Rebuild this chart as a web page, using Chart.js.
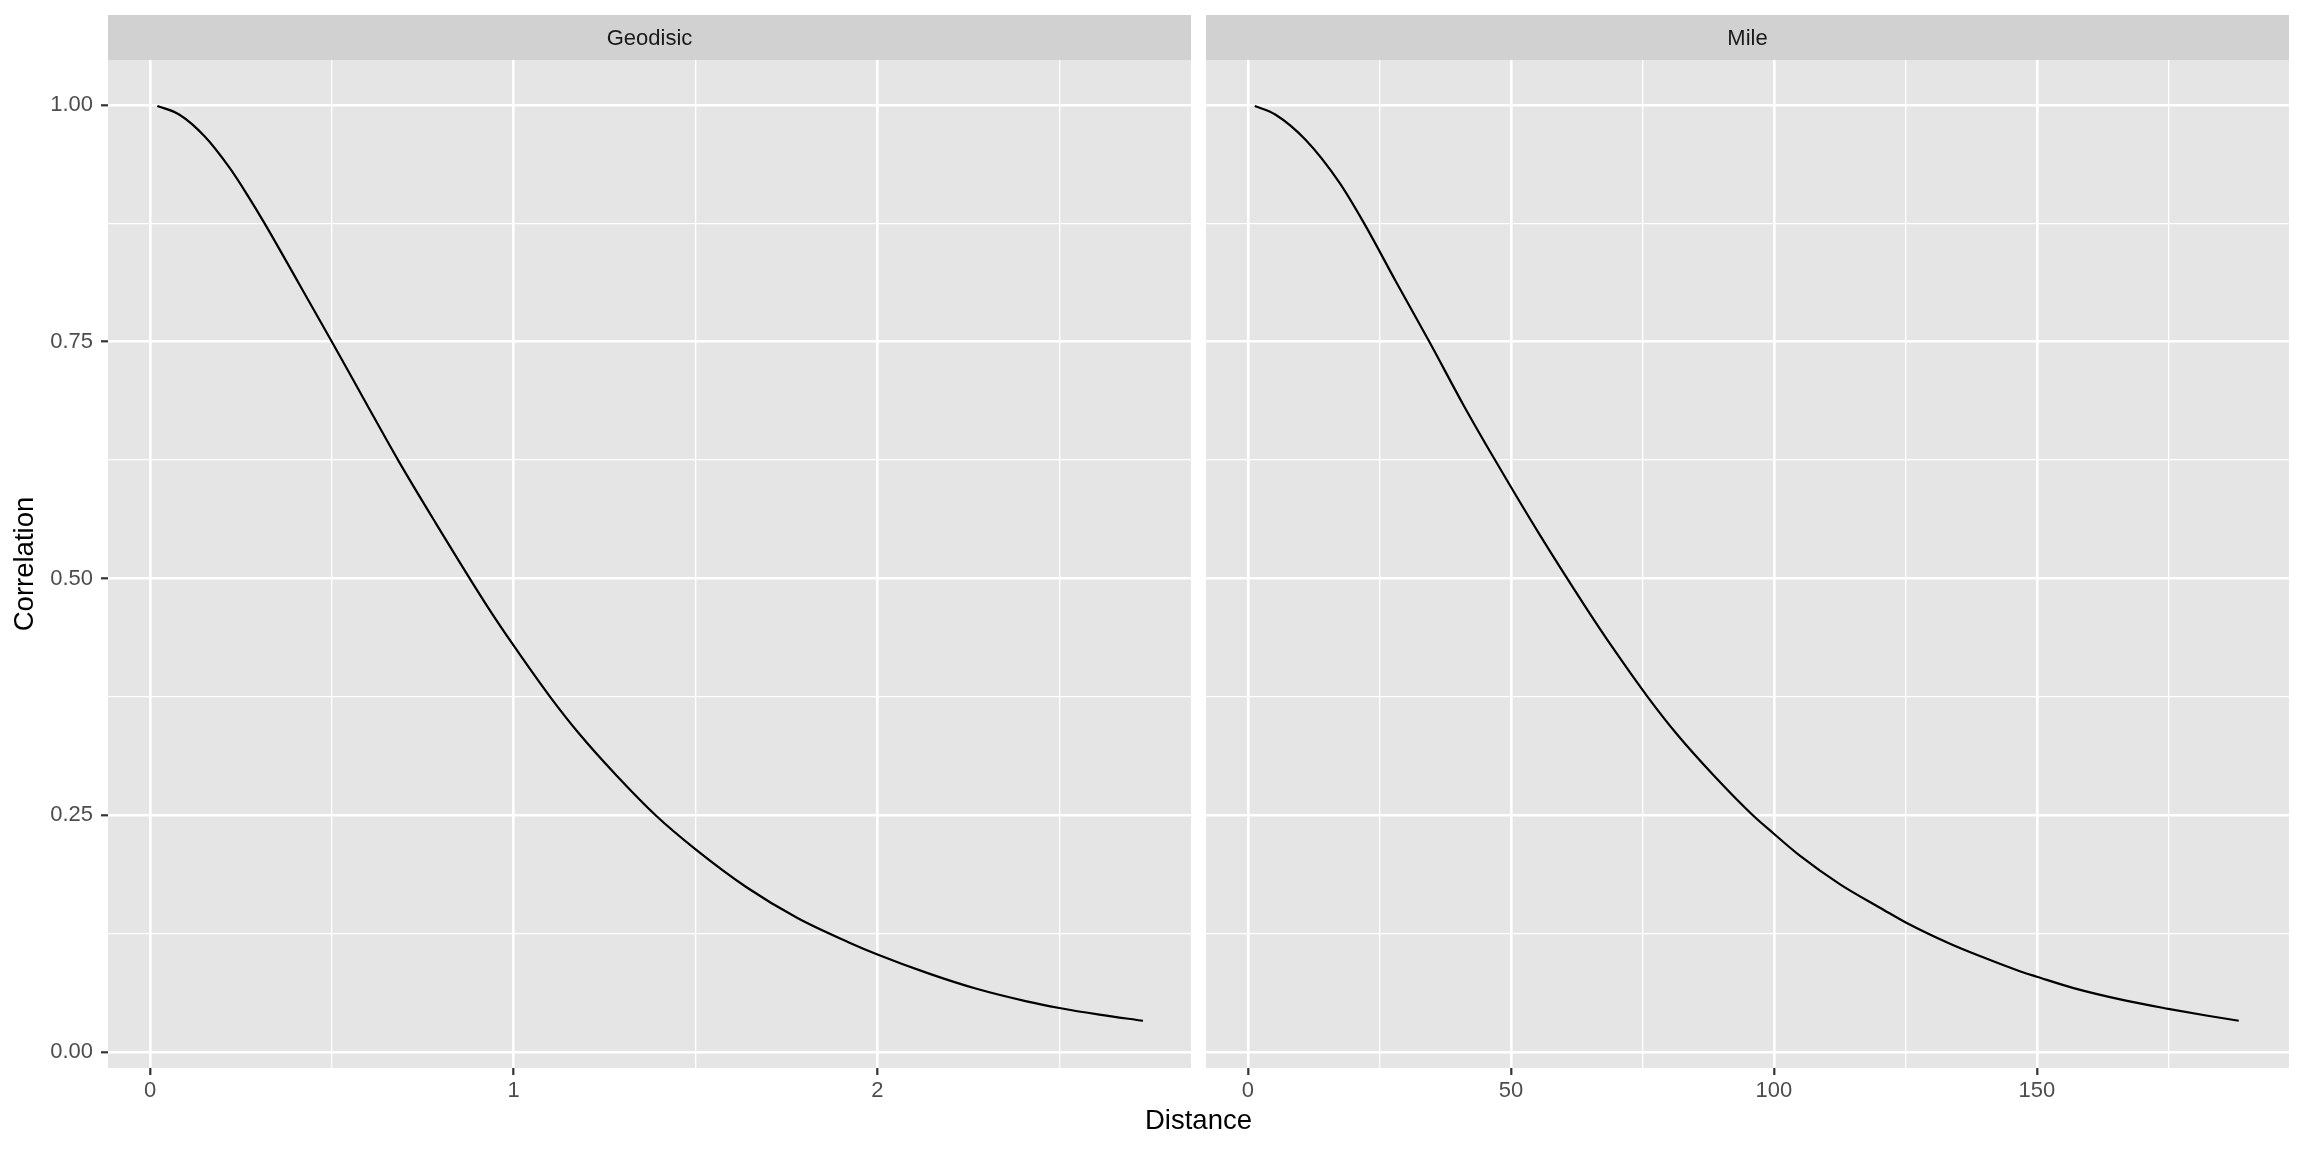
<!DOCTYPE html>
<html>
<head>
<meta charset="utf-8">
<script src="https://cdn.jsdelivr.net/npm/chart.js@4.4.1/dist/chart.umd.min.js"></script>
<style>
  body { margin: 0; background: #ffffff; }
  #wrap { position: relative; width: 2304px; height: 1152px; font-family: "Liberation Sans", Arial, sans-serif; }
  canvas { position: absolute; top: 0; }
  #geo { left: 0; }
  #mile { left: 1198px; }
  #xtitle { position: absolute; left: 0; width: 2397px; top: 1104px; text-align: center;
            font-size: 27.5px; line-height: 32px; color: #000000; }
</style>
</head>
<body>
<div id="wrap">
  <canvas id="geo" width="1198" height="1152"></canvas>
  <canvas id="mile" width="1106" height="1152"></canvas>
  <div id="xtitle">Distance</div>
</div>
<script>
// curve, one per facet
const geoDist = [0.02, 0.08, 0.15, 0.22, 0.27, 0.315, 0.41, 0.50, 0.59, 0.682, 0.78, 0.93, 1.00,
  1.10, 1.18, 1.28, 1.39, 1.50, 1.64, 1.78, 1.92, 2.00, 2.14, 2.27, 2.41, 2.50, 2.61, 2.73];
const geoCorr = [0.999, 0.990, 0.967, 0.933, 0.9035, 0.875, 0.811, 0.750, 0.688, 0.625, 0.562, 0.469, 0.429,
  0.375, 0.336, 0.293, 0.250, 0.214, 0.174, 0.1415, 0.116, 0.103, 0.083, 0.067, 0.0535, 0.0465, 0.0395, 0.033];

const mileDist = [1.3, 5.2, 11.0, 17.4, 22.1, 28.0, 34.5, 41.0, 47.1, 55.5, 64.3, 69.1, 76.0,
  81.5, 88.4, 96.0, 100.0, 105.0, 112.6, 120.9, 125.0, 133.6, 139.3, 146.9, 150.0, 157.0,
  166.5, 175.0, 182.2, 188.4];
const mileCorr = [0.999, 0.990, 0.963, 0.918, 0.875, 0.815, 0.750, 0.683, 0.624, 0.546, 0.469, 0.429, 0.375,
  0.336, 0.293, 0.250, 0.2305, 0.207, 0.177, 0.150, 0.137, 0.114, 0.101, 0.085, 0.0795, 0.0675,
  0.0548, 0.0456, 0.0385, 0.033];

// ticks
const geoMajor = [0, 1, 2];
const geoMinor = [0.5, 1.5, 2.5];
const geoLabels = ['0', '1', '2'];
const mileMajor = [0, 50, 100, 150];
const mileMinor = [25, 75, 125, 175];
const mileLabels = ['0', '50', '100', '150'];
const corrMajor = [0, 0.25, 0.5, 0.75, 1];
const corrMinor = [0.125, 0.375, 0.625, 0.875];
const corrLabels = ['0.00', '0.25', '0.50', '0.75', '1.00'];

Chart.defaults.font.family = '"Liberation Sans", Arial, sans-serif';

function panelPlugin(label) {
  return {
    id: 'panel',
    beforeDraw(chart) {
      const ctx = chart.ctx;
      const a = chart.chartArea;
      ctx.save();
      ctx.fillStyle = '#E5E5E5';
      ctx.fillRect(a.left, a.top, a.right - a.left, a.bottom - a.top);
      ctx.fillStyle = '#D1D1D1';
      ctx.fillRect(a.left, 15, a.right - a.left, a.top - 15);
      ctx.fillStyle = '#1A1A1A';
      ctx.font = '22px "Liberation Sans", Arial, sans-serif';
      ctx.textAlign = 'center';
      ctx.textBaseline = 'middle';
      ctx.fillText(label, (a.left + a.right) / 2, (15 + a.top) / 2 + 1);
      ctx.restore();
    }
  };
}

function axis(major, minor, labels, min, max, showLabels) {
  return {
    type: 'linear',
    min: min,
    max: max,
    afterBuildTicks: s => {
      s.ticks = major.concat(minor).sort((a, b) => a - b).map(v => ({value: v}));
    },
    border: {display: false},
    grid: {
      color: '#FFFFFF',
      lineWidth: c => major.includes(c.tick.value) ? 2.6 : 1.3,
      drawTicks: showLabels,
      tickLength: 7,
      tickWidth: 2.2,
      tickColor: c => major.includes(c.tick.value) ? '#333333' : 'rgba(0,0,0,0)'
    },
    ticks: {
      display: showLabels,
      autoSkip: false,
      maxRotation: 0,
      color: '#4D4D4D',
      font: {size: 22},
      callback: v => {
        const i = major.indexOf(v);
        return i >= 0 ? labels[i] : '';
      }
    }
  };
}

function makeChart(id, xs, ys, label, xScale, withY) {
  const yScale = axis(corrMajor, corrMinor, corrLabels, -0.0169, 1.0475, withY);
  if (withY) {
    yScale.ticks.padding = 8;
    yScale.title = {display: true, text: 'Correlation', color: '#000000',
      font: {size: 27.5}, padding: {top: 9, bottom: 0}};
    yScale.afterFit = s => { s.width = 108; };
  } else {
    yScale.afterFit = s => { s.width = 8; };
  }
  xScale.ticks.padding = 3;
  xScale.afterFit = s => { s.height = 84; };

  return new Chart(document.getElementById(id), {
    type: 'line',
    data: {
      datasets: [{
        data: xs.map((x, i) => ({x: x, y: ys[i]})),
        borderColor: '#000000',
        borderWidth: 2.2,
        pointRadius: 0,
        cubicInterpolationMode: 'monotone',
        fill: false
      }]
    },
    options: {
      responsive: false,
      animation: false,
      layout: {padding: {top: 60, left: 0, right: withY ? 7 : 15, bottom: 0}},
      plugins: {legend: {display: false}, tooltip: {enabled: false}},
      scales: {x: xScale, y: yScale}
    },
    plugins: [panelPlugin(label)]
  });
}

makeChart('geo', geoDist, geoCorr, 'Geodisic',
  axis(geoMajor, geoMinor, geoLabels, -0.1155, 2.862, true), true);
makeChart('mile', mileDist, mileCorr, 'Mile',
  axis(mileMajor, mileMinor, mileLabels, -7.97, 197.95, true), false);
</script>
</body>
</html>
